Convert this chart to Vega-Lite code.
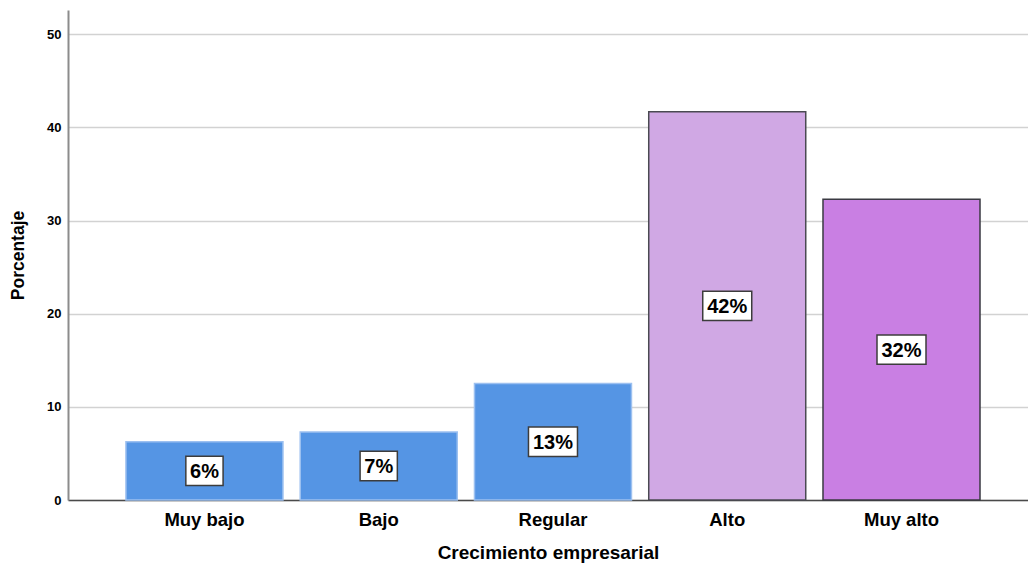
{
  "$schema": "https://vega.github.io/schema/vega-lite/v6.json",
  "width": 960,
  "height": 490,
  "autosize": {"type": "none"},
  "padding": {"left": 68, "top": 10, "right": 0, "bottom": 68},
  "background": "white",
  "config": {
    "font": "Liberation Sans",
    "view": {"stroke": null}
  },
  "data": {
    "values": [
      {"nivel": "Muy bajo", "pct": 6.25},
      {"nivel": "Bajo", "pct": 7.29},
      {"nivel": "Regular", "pct": 12.5},
      {"nivel": "Alto", "pct": 41.67},
      {"nivel": "Muy alto", "pct": 32.29}
    ]
  },
  "transform": [
    {"calculate": "datum.pct / 2", "as": "mid"},
    {"calculate": "format(datum.pct, '.0f') + '%'", "as": "etiqueta"}
  ],
  "encoding": {
    "x": {
      "field": "nivel",
      "type": "nominal",
      "sort": ["Muy bajo", "Bajo", "Regular", "Alto", "Muy alto"],
      "scale": {"paddingInner": 0.099, "paddingOuter": 0.304, "align": 0.547},
      "axis": {
        "title": "Crecimiento empresarial",
        "titleFontSize": 19,
        "titleFontWeight": "bold",
        "titleColor": "black",
        "titlePadding": 15,
        "labelAngle": 0,
        "labelFontSize": 18.5,
        "labelFontWeight": "bold",
        "labelColor": "black",
        "labelPadding": 10,
        "ticks": false,
        "domainColor": "#4a4a4a",
        "domainWidth": 1.5
      }
    }
  },
  "layer": [
    {
      "mark": {"type": "bar", "strokeWidth": 1.5},
      "encoding": {
        "y": {
          "field": "pct",
          "type": "quantitative",
          "scale": {"domain": [0, 52.6], "nice": false},
          "axis": {
            "title": "Porcentaje",
            "titleFontSize": 17.5,
            "titleFontWeight": "bold",
            "titleColor": "black",
            "titlePadding": 19,
            "values": [0, 10, 20, 30, 40, 50],
            "labelFontSize": 13,
            "labelFontWeight": "bold",
            "labelColor": "black",
            "labelPadding": 7,
            "ticks": false,
            "grid": true,
            "gridColor": "#d2d2d2",
            "gridWidth": 1.5,
            "domainColor": "#8c8c8c",
            "domainWidth": 2
          }
        },
        "fill": {
          "field": "nivel",
          "type": "nominal",
          "legend": null,
          "scale": {
            "domain": ["Muy bajo", "Bajo", "Regular", "Alto", "Muy alto"],
            "range": ["#5595e4", "#5595e4", "#5595e4", "#d0a8e4", "#c97fe3"]
          }
        },
        "stroke": {
          "field": "nivel",
          "type": "nominal",
          "legend": null,
          "scale": {
            "domain": ["Muy bajo", "Bajo", "Regular", "Alto", "Muy alto"],
            "range": ["#9cc0f0", "#9cc0f0", "#9cc0f0", "#4a4a52", "#3a3a42"]
          }
        }
      }
    },
    {
      "mark": {"type": "point", "filled": true, "fill": "white", "stroke": "#3c3c3c", "strokeWidth": 1.5, "opacity": 1, "size": 2401},
      "encoding": {
        "y": {"field": "mid", "type": "quantitative"},
        "shape": {
          "condition": {"test": "datum.pct >= 9.5", "value": "M-1,-0.6H1V0.6H-1Z"},
          "value": "M-0.76,-0.6H0.76V0.6H-0.76Z"
        }
      }
    },
    {
      "mark": {"type": "text", "fontSize": 20, "fontWeight": "bold", "color": "black", "baseline": "middle", "align": "center", "dy": 1},
      "encoding": {
        "y": {"field": "mid", "type": "quantitative"},
        "text": {"field": "etiqueta"}
      }
    }
  ]
}
